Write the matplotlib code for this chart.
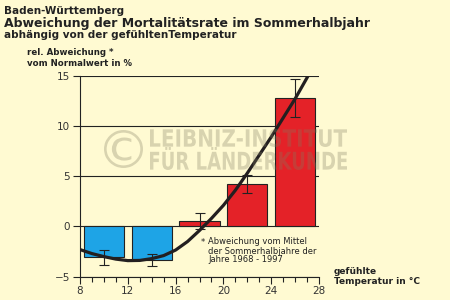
import numpy as np
import matplotlib
matplotlib.use('Agg')
import matplotlib.pyplot as plt
from matplotlib.ticker import MultipleLocator
from matplotlib.textpath import TextPath
from matplotlib.patches import PathPatch
from matplotlib.font_manager import FontProperties
from matplotlib.transforms import Affine2D

plt.rcParams['font.family'] = 'DejaVu Sans'

# bars: centre of temperature class (°C) and relative deviation (%)
temp_classes = [10, 14, 18, 22, 26]
deviation = [-3.0, -3.3, 0.5, 4.25, 12.8]
err_low = [-3.8, -3.9, -0.25, 3.35, 10.85]
err_high = [-2.3, -2.7, 1.35, 5.1, 14.7]
bar_colors = ['#1ea4e6', '#1ea4e6', '#e42228', '#e42228', '#e42228']

# fitted curve
curve_t = [8, 9, 10, 11, 12, 13, 14, 15, 16, 17, 18, 19, 20, 21, 22, 23, 24, 25, 26, 27, 27.5]
curve_v = [-2.3, -2.7, -3.0, -3.25, -3.4, -3.38, -3.2, -2.9, -2.35, -1.5, -0.4, 0.8, 2.1, 3.6, 5.3,
           7.1, 8.9, 10.8, 12.7, 14.8, 15.9]

yticks = [-5, 0, 5, 10, 15]
xticks = [8, 12, 16, 20, 24, 28]

bg = '#fffad2'
W, H = 450, 300

fig = plt.figure(figsize=(4.5, 3), dpi=100, facecolor=bg)
ax = fig.add_axes([80 / W, 23.3 / H, 239 / W, 201 / H], facecolor=bg)

lo = np.array(deviation) - np.array(err_low)
hi = np.array(err_high) - np.array(deviation)

ax.bar(temp_classes, deviation, width=3.35, color=bar_colors, edgecolor='#222222', linewidth=0.8, zorder=2)
ax.errorbar(temp_classes, deviation, yerr=[lo, hi], fmt='none', ecolor='#222222',
            elinewidth=0.8, capsize=3.6, capthick=0.8, zorder=4)
ax.plot(curve_t, curve_v, color='#231f20', lw=2.3, solid_capstyle='round', zorder=5)

ax.set_xlim(8, 28)
ax.set_ylim(-5, 15)
ax.set_xticks(xticks)
ax.set_yticks(yticks)
ax.xaxis.set_minor_locator(MultipleLocator(1))
ax.tick_params(axis='both', direction='out', length=5, width=0.8, color='#222222',
               labelsize=7.5, labelcolor='#333333', pad=2)
ax.tick_params(axis='x', which='minor', length=3.5, width=0.8, color='#222222')
ax.grid(axis='y', color='#222222', linewidth=0.8, zorder=1)
ax.set_axisbelow(True)
for s in ['top', 'right']:
    ax.spines[s].set_visible(False)
for s in ['left', 'bottom']:
    ax.spines[s].set_color('#222222')
    ax.spines[s].set_linewidth(0.8)


# watermark, squeezed into the box it fills in the original (pixel coords from top-left)
def watermark(s, x0, x1, ytop, ybot, weight='bold'):
    tp = TextPath((0, 0), s, size=10, prop=FontProperties(family='DejaVu Sans', weight=weight))
    ext = tp.get_extents()
    sx = (x1 - x0) / ext.width
    sy = (ybot - ytop) / ext.height
    tr = Affine2D().translate(-ext.x0, -ext.y0).scale(sx, sy).translate(x0, H - ybot)
    patch = PathPatch(tr.transform_path(tp), transform=None, facecolor='#807c5f',
                      edgecolor='none', alpha=0.3, zorder=3)
    fig.patches.append(patch)

watermark('\u00a9', 104, 143, 130, 168, weight='normal')
watermark('LEIBNIZ-INSTITUT', 150, 347, 129, 147)
watermark('FÜR LÄNDERKUNDE', 150, 347, 147, 170)


def ftext(x, y, s, **kw):
    fig.text(x / W, 1 - y / H, s, va='baseline', color='#222222', **kw)

ftext(4, 14.5, 'Baden-Württemberg', fontsize=7.5, fontweight='bold')
ftext(4, 27.5, 'Abweichung der Mortalitätsrate im Sommerhalbjahr', fontsize=9, fontweight='bold')
ftext(4, 38.5, 'abhängig von der gefühltenTemperatur', fontsize=7.5, fontweight='bold')
ftext(27, 55, 'rel. Abweichung *', fontsize=6.2, fontweight='bold')
ftext(27, 65.7, 'vom Normalwert in %', fontsize=6.2, fontweight='bold')
ftext(334, 274.5, 'gefühlte', fontsize=6.5, fontweight='bold')
ftext(334, 284, 'Temperatur in °C', fontsize=6.5, fontweight='bold')
ftext(201, 244.5, '*', fontsize=6.0)
ftext(208, 244.5, 'Abweichung vom Mittel', fontsize=6.0)
ftext(208, 253.5, 'der Sommerhalbjahre der', fontsize=6.0)
ftext(208, 262.5, 'Jahre 1968 - 1997', fontsize=6.0)

fig.savefig('out.png', dpi=100, facecolor=bg)
